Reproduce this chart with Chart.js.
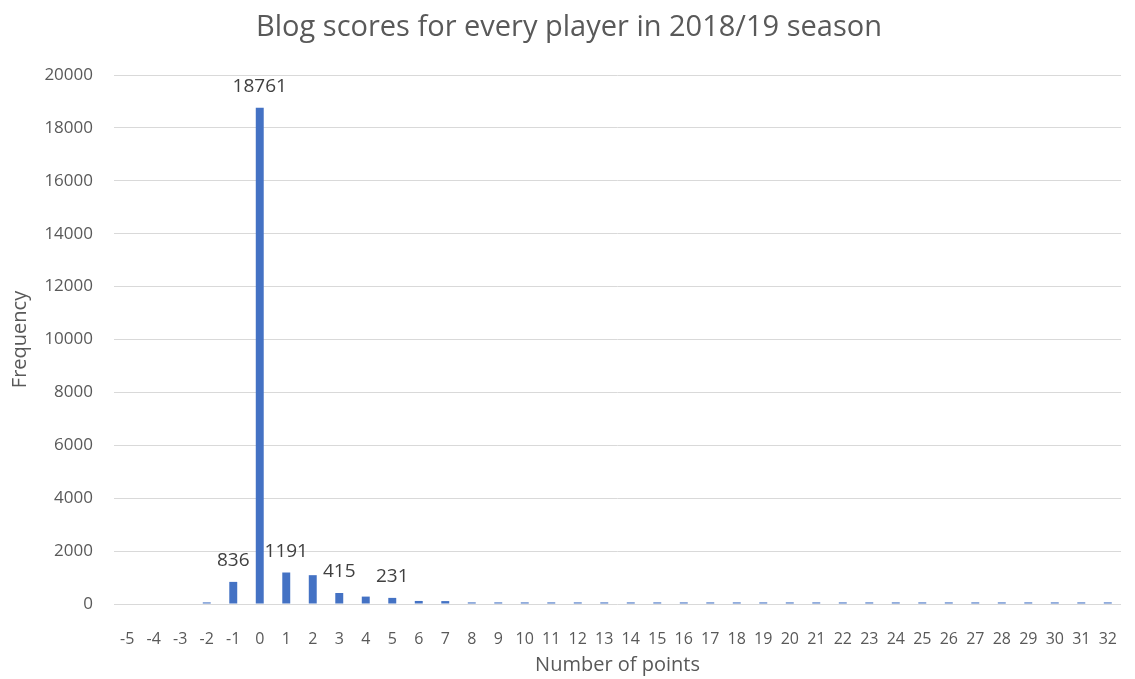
<!DOCTYPE html>
<html>
<head>
<meta charset="utf-8">
<script src="https://cdn.jsdelivr.net/npm/chart.js@4/dist/chart.umd.min.js"></script>
<style>
  html, body { margin: 0; padding: 0; background: #ffffff; }
  #wrap { width: 1135px; height: 679px; }
</style>
</head>
<body>
<div id="wrap"><canvas id="chart" width="1135" height="679"></canvas></div>
<script>
// Points scored (categories) and how often each score occurred
const points = [-5, -4, -3, -2, -1, 0, 1, 2, 3, 4, 5, 6, 7, 8, 9, 10, 11, 12, 13, 14, 15,
  16, 17, 18, 19, 20, 21, 22, 23, 24, 25, 26, 27, 28, 29, 30, 31, 32];
const frequency = [0, 0, 0, 60, 836, 18761, 1191, 1090, 415, 280, 231, 115, 110, 60, 60, 60, 60,
  60, 60, 60, 60, 60, 60, 60, 60, 60, 60, 60, 60, 60, 60, 60, 60, 60, 60, 60, 60, 60];
// Scores whose counts are printed above the bar
const labelledPoints = [-1, 0, 1, 3, 5];

const yTicks = { min: 0, max: 20000, step: 2000 };

const FONT = "'Open Sans', sans-serif";
const GREY = '#595959';

const valueLabels = {
  id: 'valueLabels',
  afterDatasetsDraw(chart) {
    const ctx = chart.ctx;
    const meta = chart.getDatasetMeta(0);
    ctx.save();
    ctx.font = "19px " + FONT;
    ctx.fillStyle = '#404040';
    ctx.textAlign = 'center';
    ctx.textBaseline = 'middle';
    labelledPoints.forEach(p => {
      const i = points.indexOf(p);
      const bar = meta.data[i];
      ctx.fillText(String(frequency[i]), bar.x, bar.y - 21);
    });
    ctx.restore();
  }
};

new Chart(document.getElementById('chart'), {
  type: 'bar',
  data: {
    labels: points.map(String),
    datasets: [{
      data: frequency,
      backgroundColor: '#4472C4',
      borderWidth: 0,
      barPercentage: 0.3,
      categoryPercentage: 1.0
    }]
  },
  options: {
    responsive: false,
    animation: false,
    devicePixelRatio: 1,
    layout: { padding: { left: 8, right: 5, top: 0, bottom: 0 } },
    plugins: {
      legend: { display: false },
      tooltip: { enabled: false },
      title: {
        display: true,
        text: 'Blog scores for every player in 2018/19 season',
        color: GREY,
        font: { family: FONT, size: 29, weight: 'normal', lineHeight: 1.2 },
        padding: { top: 10, bottom: 30.2 }
      }
    },
    scales: {
      x: {
        grid: { display: false },
        border: { display: false },
        ticks: {
          color: GREY,
          font: { family: FONT, size: 16 },
          autoSkip: false,
          maxRotation: 0,
          minRotation: 0,
          padding: 18
        },
        title: {
          display: true,
          text: 'Number of points',
          color: GREY,
          font: { family: FONT, size: 20, lineHeight: 1.2 },
          padding: { top: 0, bottom: 2 }
        },
        afterFit(s) { s.height = 75; }
      },
      y: {
        min: yTicks.min,
        max: yTicks.max,
        grid: { color: '#d9d9d9', lineWidth: 1, drawTicks: false },
        border: { display: false },
        ticks: {
          stepSize: yTicks.step,
          color: GREY,
          font: { family: FONT, size: 17 },
          padding: 21,
          callback: v => String(v)
        },
        title: {
          display: true,
          text: 'Frequency',
          color: GREY,
          font: { family: FONT, size: 20, lineHeight: 1.2 },
          padding: 0
        },
        afterFit(s) { s.width = 106; }
      }
    }
  },
  plugins: [valueLabels]
});
</script>
</body>
</html>
